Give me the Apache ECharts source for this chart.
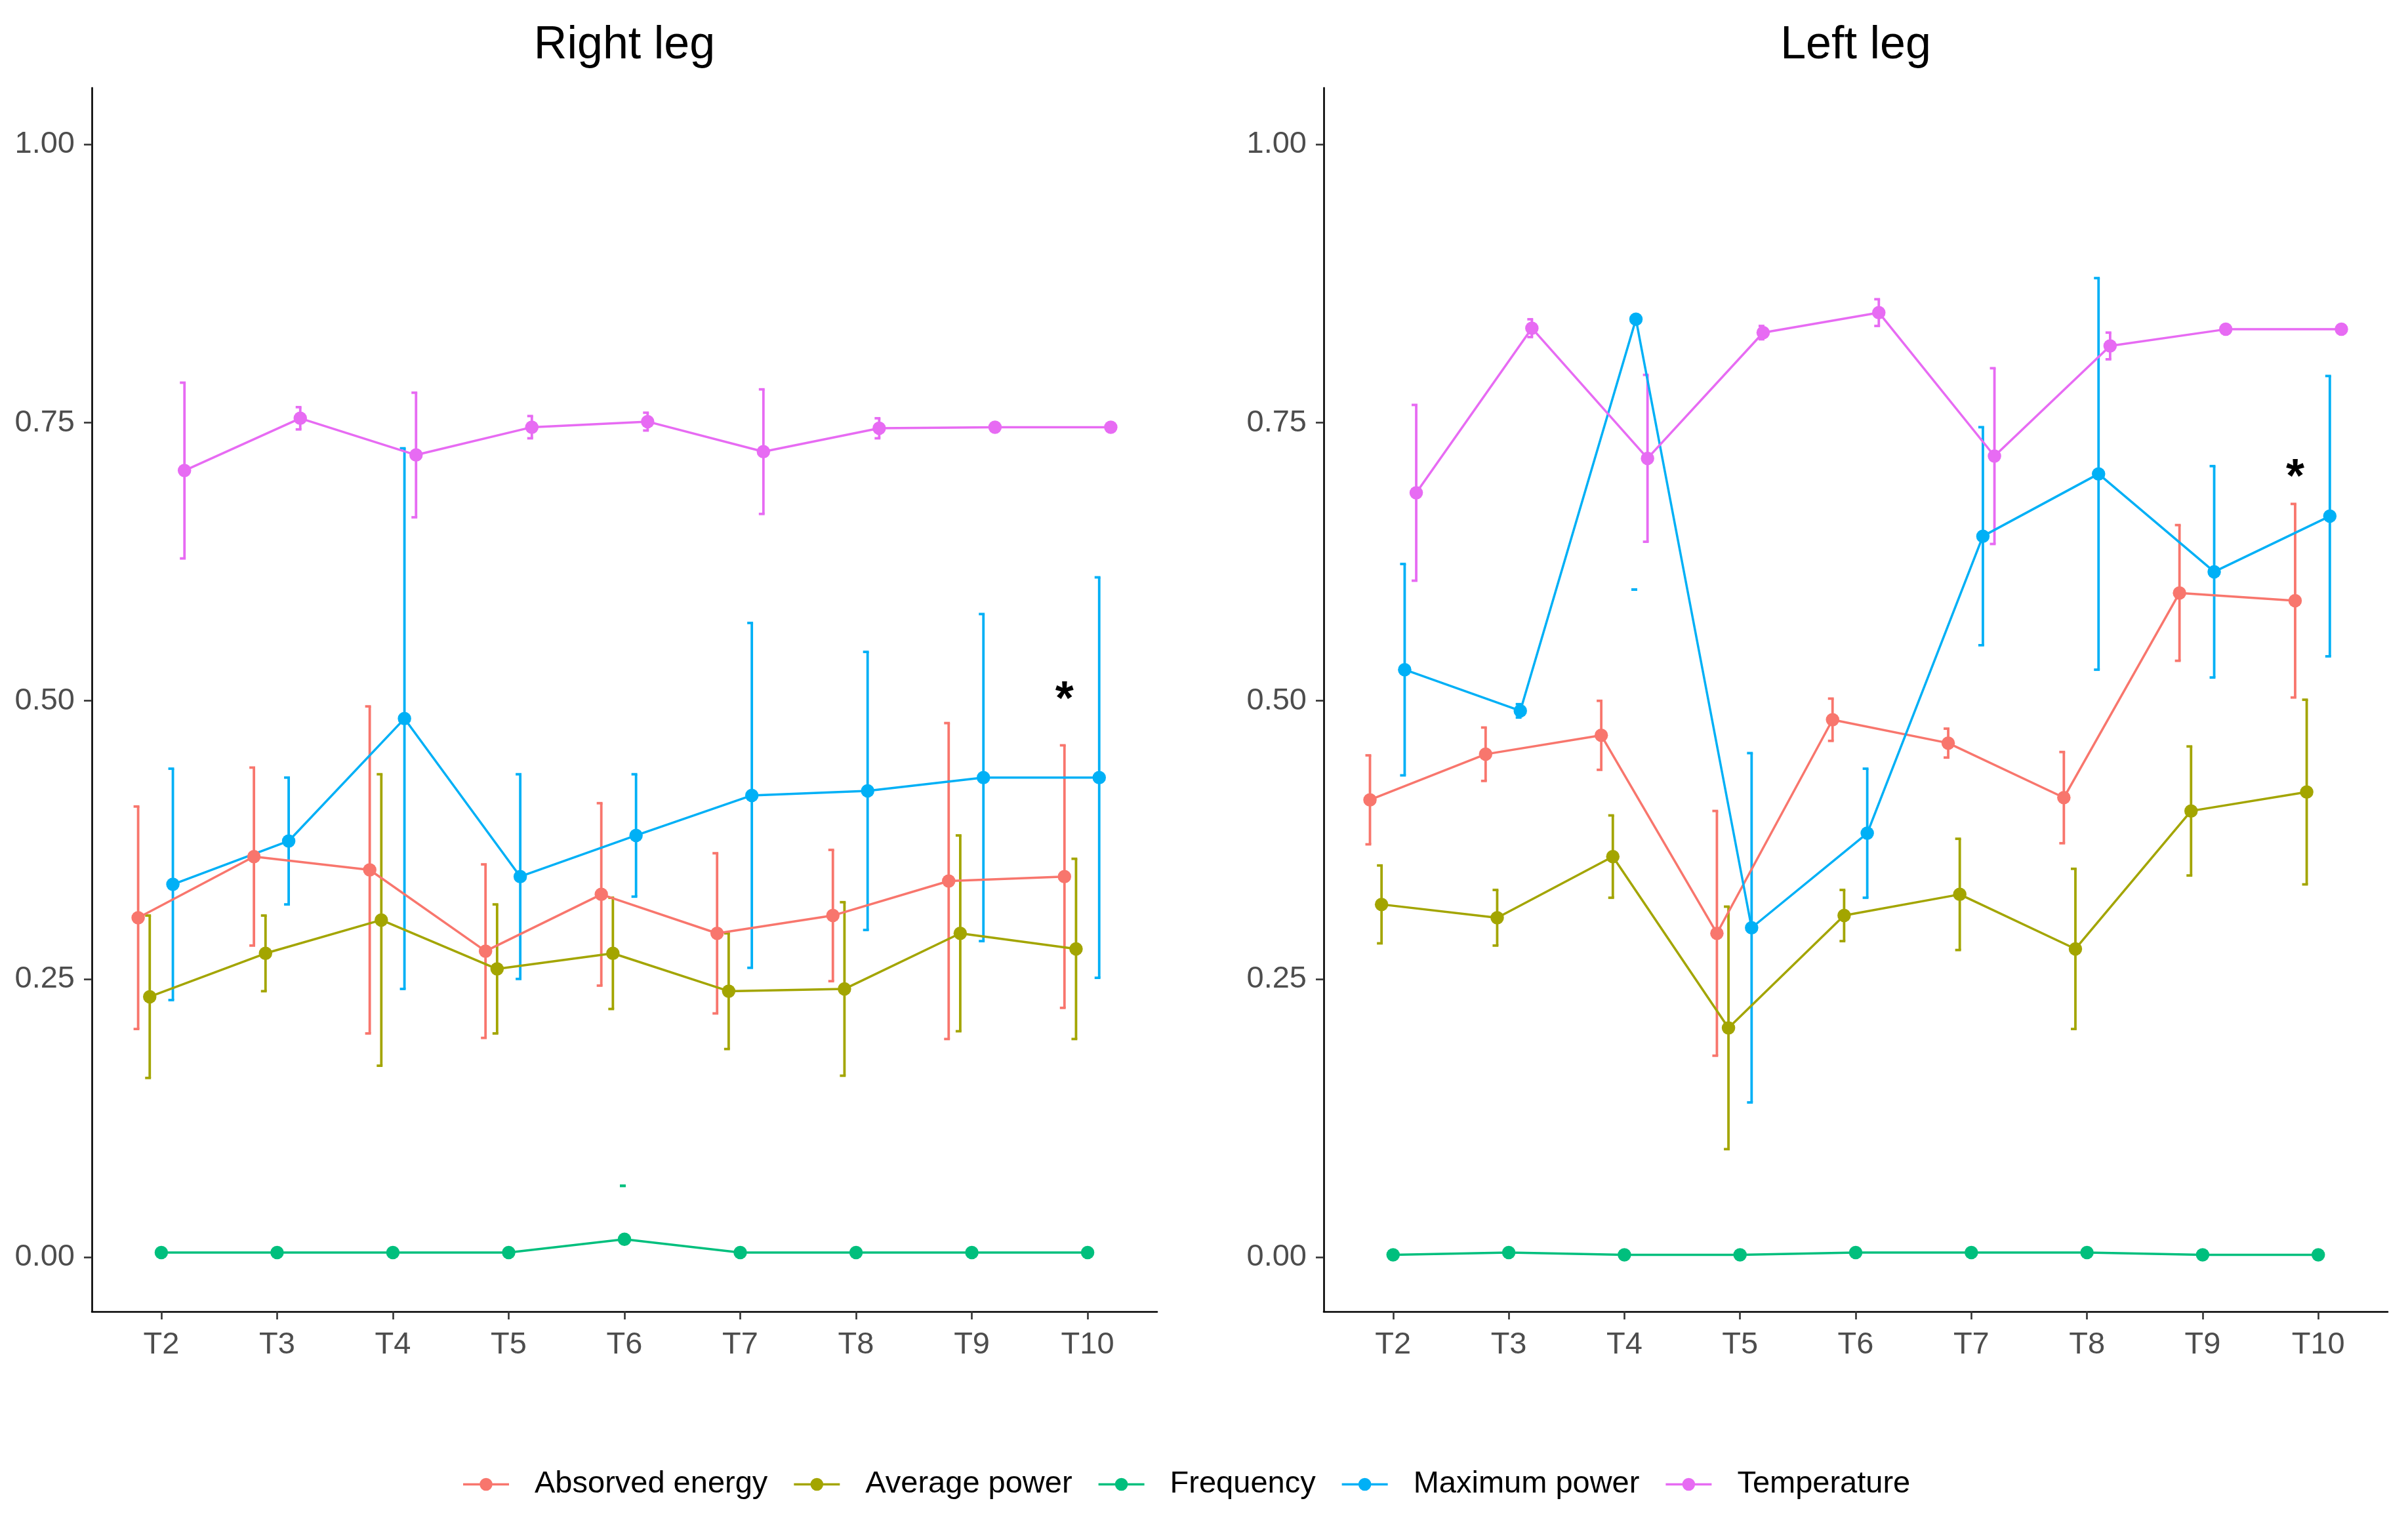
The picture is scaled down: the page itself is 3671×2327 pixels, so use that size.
<!DOCTYPE html>
<html>
<head>
<meta charset="utf-8">
<script src="https://cdn.jsdelivr.net/npm/echarts@6/dist/echarts.min.js"></script>
<style>
html,body{margin:0;padding:0;background:#ffffff;}
#chart{width:3671px;height:2327px;}
</style>
</head>
<body>
<div id="chart"></div>
<script>
// ---------- data ----------
const categories = ['T2', 'T3', 'T4', 'T5', 'T6', 'T7', 'T8', 'T9', 'T10'];
const seriesNames = ['Absorved energy', 'Average power', 'Frequency', 'Maximum power', 'Temperature'];
const seriesColors = ['#F8766D', '#A3A500', '#00BF7D', '#00B0F6', '#E76BF3'];
const yTicks = [0, 0.25, 0.5, 0.75, 1];
const panelTitles = ['Right leg', 'Left leg'];

// Right leg: means and standard deviations
const rightAbsorbed    = [0.305, 0.360, 0.348, 0.275, 0.326, 0.291, 0.307, 0.338, 0.342];
const rightAbsorbedSd  = [0.100, 0.080, 0.147, 0.078, 0.082, 0.072, 0.059, 0.142, 0.118];
const rightAverage     = [0.234, 0.273, 0.303, 0.259, 0.273, 0.239, 0.241, 0.291, 0.277];
const rightAverageSd   = [0.073, 0.034, 0.131, 0.058, 0.050, 0.052, 0.078, 0.088, 0.081];
const rightFrequency   = [0.004, 0.004, 0.004, 0.004, 0.016, 0.004, 0.004, 0.004, 0.004];
const rightFrequencySd = [0, 0, 0, 0, 0, 0, 0, 0, 0];
const rightMaximum     = [0.335, 0.374, 0.484, 0.342, 0.379, 0.415, 0.419, 0.431, 0.431];
const rightMaximumSd   = [0.104, 0.057, 0.243, 0.092, 0.055, 0.155, 0.125, 0.147, 0.180];
const rightTemperature = [0.707, 0.754, 0.721, 0.746, 0.751, 0.724, 0.745, 0.746, 0.746];
const rightTemperatureSd = [0.079, 0.010, 0.056, 0.010, 0.008, 0.056, 0.009, 0, 0];

// Left leg: means and standard deviations
const leftAbsorbed    = [0.411, 0.452, 0.469, 0.291, 0.483, 0.462, 0.413, 0.597, 0.590];
const leftAbsorbedSd  = [0.040, 0.024, 0.031, 0.110, 0.019, 0.013, 0.041, 0.061, 0.087];
const leftAverage     = [0.317, 0.305, 0.360, 0.206, 0.307, 0.326, 0.277, 0.401, 0.418];
const leftAverageSd   = [0.035, 0.025, 0.037, 0.109, 0.023, 0.050, 0.072, 0.058, 0.083];
const leftFrequency   = [0.002, 0.004, 0.002, 0.002, 0.004, 0.004, 0.004, 0.002, 0.002];
const leftFrequencySd = [0, 0, 0, 0, 0, 0, 0, 0, 0];
const leftMaximum     = [0.528, 0.491, 0.843, 0.296, 0.381, 0.648, 0.704, 0.616, 0.666];
const leftMaximumSd   = [0.095, 0.006, 0, 0.157, 0.058, 0.098, 0.176, 0.095, 0.126];
const leftTemperature = [0.687, 0.835, 0.718, 0.831, 0.849, 0.720, 0.819, 0.834, 0.834];
const leftTemperatureSd = [0.079, 0.008, 0.075, 0.006, 0.012, 0.079, 0.012, 0, 0];

// isolated error-bar caps visible in the picture: [panel, series, category, value]
const strayCaps = [
  [0, 'Frequency', 'T6', 0.064],
  [1, 'Maximum power', 'T4', 0.600]
];
// significance marks: [panel, series it sits over, category, y value, text]
const marks = [
  [0, 'Absorved energy', 'T10', 0.508, '*'],
  [1, 'Absorved energy', 'T10', 0.708, '*']
];

const dodgeWidth = 0.5;

// ---------- build ----------
const panelMeans = [
  [rightAbsorbed, rightAverage, rightFrequency, rightMaximum, rightTemperature],
  [leftAbsorbed, leftAverage, leftFrequency, leftMaximum, leftTemperature]
];
const panelSds = [
  [rightAbsorbedSd, rightAverageSd, rightFrequencySd, rightMaximumSd, rightTemperatureSd],
  [leftAbsorbedSd, leftAverageSd, leftFrequencySd, leftMaximumSd, leftTemperatureSd]
];

const FONT = "'Liberation Sans', Arial, sans-serif";
const nS = seriesNames.length;
function dodge(k) { return (k - (nS - 1) / 2) * dodgeWidth / nS; }

const grids = [
  { left: 140, width: 1624, top: 134, bottom: 327 },
  { left: 2018, width: 1622, top: 134, bottom: 327 }
];

const xAxes = grids.map((g, i) => ({
  type: 'value', gridIndex: i, min: -0.6, max: categories.length - 1 + 0.6,
  splitLine: { show: false },
  axisLine: { show: true, onZero: false, lineStyle: { color: '#000', width: 2.6 } },
  axisTick: { show: true, length: 12, lineStyle: { color: '#333', width: 2.6 },
              customValues: categories.map((c, j) => j) },
  axisLabel: { show: true, customValues: categories.map((c, j) => j),
               formatter: v => categories[Math.round(v)] || '',
               fontFamily: FONT, fontSize: 47, color: '#4D4D4D', margin: 28 }
}));

const yAxes = grids.map((g, i) => ({
  type: 'value', gridIndex: i, min: -0.049, max: 1.051,
  splitLine: { show: false },
  axisLine: { show: true, onZero: false, lineStyle: { color: '#000', width: 2.6 } },
  axisTick: { show: true, length: 12, lineStyle: { color: '#333', width: 2.6 },
              customValues: yTicks },
  axisLabel: { show: true, customValues: yTicks, formatter: v => v.toFixed(2),
               fontFamily: FONT, fontSize: 47, color: '#4D4D4D', margin: 26 }
}));

function renderErr(params, api) {
  const x = api.value(0), lo = api.value(1), hi = api.value(2);
  const pt = api.coord([x, hi]);
  const pb = api.coord([x, lo]);
  const st = { stroke: api.visual('color'), lineWidth: 3.8 };
  return {
    type: 'group',
    children: [
      { type: 'line', shape: { x1: pt[0], y1: pt[1], x2: pb[0], y2: pb[1] }, style: st },
      { type: 'line', shape: { x1: pt[0] - 7, y1: pt[1], x2: pt[0] + 1.9, y2: pt[1] }, style: st },
      { type: 'line', shape: { x1: pb[0] - 7, y1: pb[1], x2: pb[0] + 1.9, y2: pb[1] }, style: st }
    ]
  };
}

function renderMark(params, api) {
  const p = api.coord([api.value(0), api.value(1)]);
  return {
    type: 'text', x: p[0], y: p[1] + 14,
    style: { text: '*', font: 'bold 72px ' + FONT, fill: '#000',
             textAlign: 'center', textVerticalAlign: 'middle' }
  };
}

const series = [];
for (let p = 0; p < 2; p++) {
  for (let k = 0; k < nS; k++) {
    const means = panelMeans[p][k], sds = panelSds[p][k];
    const errData = [];
    means.forEach((m, j) => {
      if (sds[j] > 0) errData.push([j + dodge(k), m - sds[j], m + sds[j]]);
    });
    strayCaps.forEach(c => {
      if (c[0] === p && c[1] === seriesNames[k]) {
        const j = categories.indexOf(c[2]);
        errData.push([j + dodge(k), c[3], c[3]]);
      }
    });
    series.push({
      type: 'custom', name: seriesNames[k] + ' sd', xAxisIndex: p, yAxisIndex: p,
      renderItem: renderErr, data: errData, encode: { x: 0, y: [1, 2] },
      itemStyle: { color: seriesColors[k] }, z: 2, silent: true
    });
  }
  for (let k = 0; k < nS; k++) {
    const means = panelMeans[p][k];
    series.push({
      type: 'line', name: seriesNames[k], xAxisIndex: p, yAxisIndex: p,
      data: means.map((m, j) => [j + dodge(k), m]),
      symbol: 'circle', symbolSize: 20.5, showSymbol: true,
      lineStyle: { color: seriesColors[k], width: 3.5 },
      itemStyle: { color: seriesColors[k] },
      z: 3, emphasis: { disabled: true }, silent: true
    });
  }
  const markData = marks.filter(m => m[0] === p).map(m =>
    [categories.indexOf(m[2]) + dodge(seriesNames.indexOf(m[1])), m[3]]);
  series.push({
    type: 'custom', name: 'marks', xAxisIndex: p, yAxisIndex: p,
    renderItem: renderMark, data: markData, encode: { x: 0, y: 1 }, z: 5, silent: true
  });
}

const legendIcon = 'path://M0,8 L70,8 L70,11.5 L0,11.5 Z M25.25,9.75 A9.75,9.75 0 1,1 44.75,9.75 A9.75,9.75 0 1,1 25.25,9.75 Z';

const option = {
  backgroundColor: '#ffffff',
  animation: false,
  grid: grids,
  xAxis: xAxes,
  yAxis: yAxes,
  legend: {
    data: seriesNames.map((n, k) => ({ name: n, icon: legendIcon, itemStyle: { color: seriesColors[k] } })),
    orient: 'horizontal', left: 701, top: 2235,
    itemWidth: 70, itemHeight: 19.5, itemGap: 40,
    selectedMode: false,
    textStyle: { fontFamily: FONT, fontSize: 47, color: '#000', padding: [0, 0, 0, 34] }
  },
  graphic: panelTitles.map((t, i) => ({
    type: 'text', x: grids[i].left + grids[i].width / 2, y: 70,
    style: { text: t, font: '70px ' + FONT, fill: '#000', textAlign: 'center', textVerticalAlign: 'middle' }
  })),
  series: series
};

const chart = echarts.init(document.getElementById('chart'), null, { renderer: 'canvas' });
chart.setOption(option);
</script>
</body>
</html>
